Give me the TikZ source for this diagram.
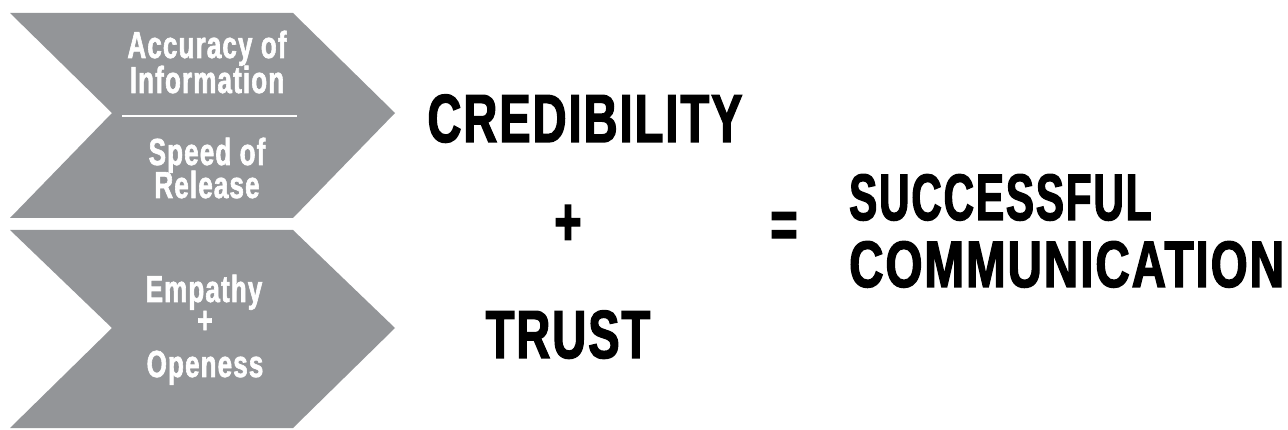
\documentclass[tikz,border=0pt]{standalone}
\usepackage{fontspec}
\newfontfamily\condfont{Liberation Sans}[FakeStretch=0.69, FakeBold=2, LetterSpace=3]
\newfontfamily\condsmall{Liberation Sans}[FakeStretch=0.69, FakeBold=1.6, LetterSpace=3]
\newfontfamily\condsucc{Liberation Sans}[FakeStretch=0.64, FakeBold=2, LetterSpace=3]
\newfontfamily\condcomm{Liberation Sans}[FakeStretch=0.725, FakeBold=2, LetterSpace=3]
\definecolor{chevgray}{HTML}{939598}
\tikzset{
  chev/.style={fill=chevgray, draw=none},
  small/.style={text=white, anchor=base, inner sep=0pt, text height=27pt, text depth=6pt, font=\condsmall\bfseries\fontsize{37.7}{37.7}\selectfont},
  big/.style={text=black, anchor=base, inner sep=0pt, font=\condfont\bfseries\fontsize{68}{68}\selectfont},
  bigr/.style={text=black, anchor=base west, inner sep=0pt, text height=47pt, text depth=0pt},
}
\begin{document}
\begin{tikzpicture}[x=1pt,y=-1pt]
\useasboundingbox (0,0) rectangle (1288,430);
% chevrons
\path[chev] (10,13) -- (293,13) -- (395,113) -- (293,218) -- (10,218) -- (112,113) -- cycle;
\path[chev] (10,230) -- (293,230) -- (395,328) -- (293,428) -- (10,428) -- (112,328) -- cycle;
% chevron 1 text
\node[small] (acc1) at (207,58) {Accuracy of};
\node[small] (acc2) at (207,93) {Information};
\coordinate (dl) at (122,116);
\coordinate (dr) at (297,116);
\draw[white, line width=2pt] (dl) -- (dr);
\node[small] (spd1) at (207,165) {Speed of};
\node[small] (spd2) at (207,198) {Release};
% chevron 2 text
\node[small] (emp) at (204,302) {Empathy};
\node[small, anchor=center, text height=14pt, text depth=0pt] (ep) at (205,326) {+};
\node[small] (ope) at (205,377) {Openess};
% main equation
\node[big] (cred) at (585,142) {CREDIBILITY};
\node[big, anchor=center] (plus) at (568,225) {+};
\node[big] (trust) at (568,358) {TRUST};
\node[big, anchor=center] (eq) at (784,230) {=};
\node[bigr, font=\condsucc\bfseries\fontsize{65.6}{65.6}\selectfont] (succ) at (849,220) {SUCCESSFUL};
\node[bigr, font=\condcomm\bfseries\fontsize{65.6}{65.6}\selectfont] (comm) at (849,287) {COMMUNICATION};
\end{tikzpicture}
\end{document}
